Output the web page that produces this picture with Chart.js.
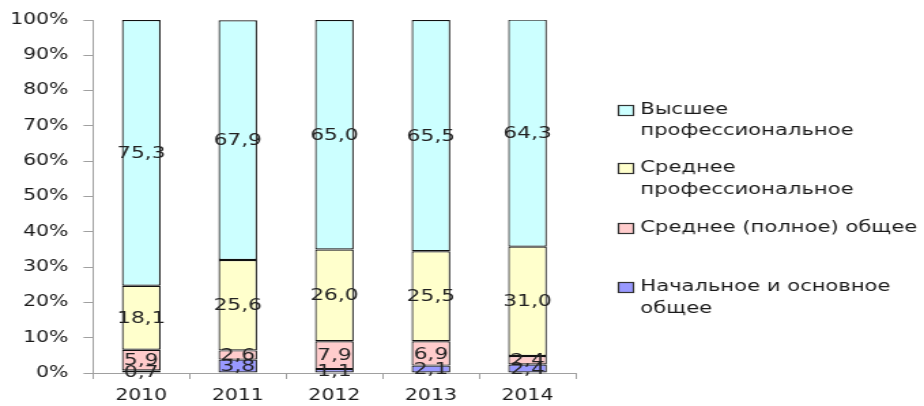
<!DOCTYPE html>
<html lang="ru">
<head>
  <meta charset="UTF-8">
  <title>Уровень образования</title>
  <script src="https://cdn.jsdelivr.net/npm/chart.js"></script>
  <style>
    html, body { margin: 0; padding: 0; background: #fff; }
    /* canvas is drawn narrower and stretched, like the original picture */
    #grafico { display: block; width: 924px !important; height: 406px !important; }
  </style>
</head>
<body>
  <canvas id="grafico" width="679" height="406" style="width:924px;height:406px"></canvas>
<script>
  var anos = ['2010', '2011', '2012', '2013', '2014']
  var nachalnoe = [0.7, 3.8, 1.1, 2.1, 2.4]
  var srednee = [5.9, 2.6, 7.9, 6.9, 2.4]
  var sredneeProf = [18.1, 25.6, 26.0, 25.5, 31.0]
  var vysshee = [75.3, 67.9, 65.0, 65.5, 64.3]
  var yTicks = [0, 10, 20, 30, 40, 50, 60, 70, 80, 90, 100]

  var series = [
    { label: 'Начальное и основное общее', lines: ['Начальное и основное', 'общее'], data: nachalnoe, cor: '#9999ff' },
    { label: 'Среднее (полное) общее', lines: ['Среднее (полное) общее'], data: srednee, cor: '#ffcccc' },
    { label: 'Среднее профессиональное', lines: ['Среднее', 'профессиональное'], data: sredneeProf, cor: '#ffffcc' },
    { label: 'Высшее профессиональное', lines: ['Высшее', 'профессиональное'], data: vysshee, cor: '#ccffff' }
  ]

  var fonte = 'DejaVu Sans, Verdana, sans-serif'

  // numbers inside the bars
  var rotulos = {
    id: 'rotulos',
    afterDatasetsDraw: function (chart) {
      var ctx = chart.ctx
      ctx.save()
      ctx.font = '16px ' + fonte
      ctx.fillStyle = '#222'
      ctx.textAlign = 'center'
      ctx.textBaseline = 'middle'
      chart.data.datasets.forEach(function (ds, i) {
        chart.getDatasetMeta(i).data.forEach(function (bar, j) {
          var texto = ds.data[j].toFixed(1).replace('.', ',')
          ctx.fillText(texto, bar.x, (bar.y + bar.base) / 2 + 1)
        })
      })
      ctx.restore()
    }
  }

  // legend on the right, top item first
  var legenda = {
    id: 'legenda',
    afterDraw: function (chart) {
      var ctx = chart.ctx
      var posY = [[110, 131], [168, 190], [228], [287, 309]]
      var itens = series.slice().reverse()
      ctx.save()
      ctx.font = '15.5px ' + fonte
      ctx.textAlign = 'left'
      ctx.textBaseline = 'middle'
      itens.forEach(function (s, i) {
        var y0 = posY[i][0]
        ctx.fillStyle = s.cor
        ctx.fillRect(454, y0 - 5, 11.5, 11)
        ctx.strokeStyle = '#333'
        ctx.lineWidth = 1.2
        ctx.strokeRect(454.5, y0 - 4.5, 11, 10)
        ctx.fillStyle = '#1a1a1a'
        s.lines.forEach(function (linha, k) {
          ctx.fillText(linha, 470.5, posY[i][k])
        })
      })
      ctx.restore()
    }
  }

  var dados = {
    labels: anos,
    datasets: series.map(function (s) {
      return {
        label: s.label,
        data: s.data,
        backgroundColor: s.cor,
        borderColor: '#111',
        borderWidth: 1.2,
        borderSkipped: false,
        categoryPercentage: 1,
        barPercentage: 0.4
      }
    })
  }

  const config = {
    type: 'bar',
    data: dados,
    options: {
      responsive: false,
      animation: false,
      devicePixelRatio: 1,
      layout: { padding: { top: 20, right: 255.9, left: 0, bottom: 0 } },
      plugins: { legend: { display: false }, tooltip: { enabled: false } },
      scales: {
        x: {
          stacked: true,
          afterFit: function (s) { s.height = 33 },
          grid: { drawOnChartArea: false, drawTicks: true, tickLength: 6, color: '#a0a0a0' },
          border: { color: '#a0a0a0', width: 1 },
          ticks: { color: '#1a1a1a', padding: 8, font: { family: fonte, size: 15 } }
        },
        y: {
          stacked: true,
          min: 0,
          max: 100,
          afterFit: function (s) { s.width = 68.3 },
          afterBuildTicks: function (s) { s.ticks = yTicks.map(function (v) { return { value: v } }) },
          grid: { drawOnChartArea: false, drawTicks: true, tickLength: 7, color: '#a0a0a0' },
          border: { color: '#a0a0a0', width: 1 },
          ticks: {
            color: '#1a1a1a',
            padding: 11,
            font: { family: fonte, size: 15 },
            callback: function (v) { return v + '%' }
          }
        }
      }
    },
    plugins: [rotulos, legenda]
  }

  const grafico = new Chart(document.getElementById('grafico'), config)
</script>
</body>
</html>
